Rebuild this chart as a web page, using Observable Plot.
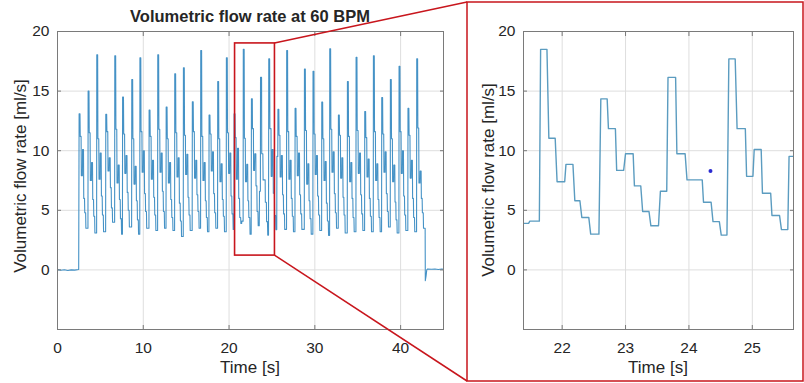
<!DOCTYPE html>
<html><head><meta charset="utf-8">
<script src="https://cdn.jsdelivr.net/npm/d3@7"></script>
<script src="https://cdn.jsdelivr.net/npm/@observablehq/plot@0.6"></script>
<style>
body{margin:0;background:#fff;}
#wrap{position:relative;width:804px;height:383px;overflow:hidden;font-family:"Liberation Sans",Arial,sans-serif;}
#left,#right{position:absolute;top:0;}
#left{left:0}
#right{left:460px}
#overlay{position:absolute;left:0;top:0;pointer-events:none}
</style></head><body>
<div id="wrap"><div id="left"></div><div id="right"></div><svg id="overlay" width="804" height="383"></svg></div>
<script>
// ---------- data ----------
// resting baseline before pumping starts
const baseTime = [0, 0.4, 0.8, 1.2, 1.6, 2.0, 2.47];
const baseFlow = [0.02, -0.03, 0.01, -0.05, 0.0, -0.02, 0.03];

// beats outside the zoomed window (onset time, plateau levels)
const beatOnset = [2.50,3.55,4.56,5.61,6.66,7.57,8.64,9.59,10.66,11.67,12.65,13.65,14.66,15.70,16.68,17.65,18.66,19.67,20.57,
                   25.68,26.70,27.68,28.77,29.77,30.79,31.72,32.73,33.78,34.79,35.80,36.81,37.78,38.79,39.80,40.84,41.86];
const beatPeak = [13.1,15.0,18.05,13.05,17.97,14.5,15.97,17.8,13.4,18.05,13.67,16.45,16.95,14.1,18.4,13.0,15.8,17.8,13.1,
                  13.47,18.4,13.55,16.86,16.67,14.08,18.55,13.0,15.8,17.83,13.28,17.97,14.45,15.97,17.08,13.55,17.72];
const beatShoulder = [11.2,11.5,11.0,11.6,11.8,11.4,11.0,11.6,11.2,11.8,11.0,11.5,11.3,11.6,11.2,11.4,11.0,11.5,11.1,
                      11.3,11.6,11.2,11.7,11.4,11.0,11.8,11.3,11.2,11.7,11.1,11.6,11.4,11.0,11.6,11.3,11.9];
const beatDip = [7.9,7.5,7.6,8.3,7.3,8.1,7.2,8.2,7.6,8.2,7.3,7.8,8.0,7.7,7.5,8.3,7.4,8.1,7.6,
                 7.8,7.6,7.9,7.2,8.0,7.5,8.2,7.7,7.4,8.1,7.8,7.5,8.2,7.4,8.1,7.7,7.3];
const beatSecond = [10.1,9.0,9.8,9.4,8.8,9.6,8.7,10.0,9.2,9.8,9.0,9.4,9.7,9.2,9.0,9.9,8.9,9.8,10.2,
                    9.6,9.2,9.8,8.9,9.6,9.1,9.9,9.4,9.0,9.8,9.3,8.9,9.9,8.8,10.0,9.2,8.3];
const beatStep1 = [6.0,5.9,6.2,6.9,5.9,6.5,5.8,6.4,6.1,6.6,5.9,5.6,6.1,6.3,5.8,6.4,5.9,6.2,6.0,
                   6.3,6.0,6.3,5.8,6.2,5.6,6.4,6.1,6.0,6.3,6.0,5.9,6.4,5.7,6.2,6.0,6.0];
const beatStep2 = [4.8,4.5,4.6,5.2,4.3,5.0,4.2,4.9,4.6,4.9,4.4,4.1,4.6,4.9,4.4,4.8,4.5,4.7,4.4,
                   4.7,4.5,4.7,4.3,4.6,4.1,4.8,4.6,4.4,4.7,4.5,4.4,4.9,4.2,4.6,4.4,4.8];
const beatMin = [3.5,3.1,3.2,4.0,3.0,3.6,3.0,3.5,3.3,3.5,3.3,2.8,3.3,3.5,3.2,3.5,3.2,3.4,3.9,
                 3.4,3.2,3.4,3.0,3.3,2.9,3.5,3.1,3.2,3.3,3.2,3.2,3.6,3.1,3.3,3.2,3.5];
// plateau start / end (s after onset), as measured on the zoomed panel
const plateauStart = [0.02, 0.15, 0.28, 0.42, 0.56, 0.68, 0.81];
const plateauEnd   = [0.12, 0.25, 0.40, 0.53, 0.65, 0.78];

// zoomed window, read point by point
const zoomTime = [21.40,21.47,21.49,21.64,21.66,21.76,21.79,21.89,21.92,22.04,22.06,22.17,22.20,22.28,22.31,22.42,22.45,22.58,
  22.61,22.71,22.73,22.84,22.86,22.97,23.00,23.12,23.14,23.24,23.27,23.37,23.40,23.52,23.55,23.65,
  23.67,23.79,23.81,23.94,23.97,24.21,24.23,24.35,24.38,24.48,24.51,24.60,
  24.63,24.73,24.76,24.89,24.91,25.01,25.03,25.14,25.16,25.29,25.31,25.43,25.46,25.56,25.58,25.68];
const zoomFlow = [3.9,3.9,4.09,4.09,18.5,18.5,11.05,11.05,7.4,7.4,8.85,8.85,5.8,5.8,4.4,4.4,3.0,3.0,
  14.35,14.35,11.85,11.85,8.35,8.35,9.75,9.75,7.05,7.05,4.9,4.9,3.7,3.7,6.6,6.6,
  16.15,16.15,9.75,9.75,7.55,7.55,5.68,5.68,4.05,4.05,2.92,2.92,
  17.7,17.7,11.85,11.85,7.85,7.85,10.1,10.1,6.43,6.43,4.56,4.56,3.38,3.38,9.52,9.52];

// pump stop
const endTime = [42.88,42.97,43.05,43.15,43.6,44.0,44.4,44.8,45.0];
const endFlow = [-0.9,-0.5,0.0,0.08,0.05,0.08,0.03,0.07,0.05];

// single marker in the zoomed panel
const markerTime = [24.34];
const markerFlow = [8.3];

// axes
const xTicksFull = [0,10,20,30,40];
const xTicksZoom = [22,23,24,25];
const yTicks = [0,5,10,15,20];
const fullDomain = [0,45];
const zoomDomain = [21.39,25.65];
const flowDomain = [-5,20];
// zoom box drawn on the overview
const zoomBoxTime = [20.7,25.35];
const zoomBoxFlow = [1.2,19.0];

// ---------- build series ----------
const series = [];
baseTime.forEach((t,i)=>series.push({t, f: baseFlow[i]}));
function addBeat(i, nextT){
  const o = beatOnset[i];
  const lv = [beatPeak[i], beatShoulder[i], beatDip[i], beatSecond[i], beatStep1[i], beatStep2[i], beatMin[i]];
  lv.forEach((v,k)=>{
    series.push({t: o+plateauStart[k], f: v});
    series.push({t: k<plateauEnd.length ? o+plateauEnd[k] : nextT, f: v});
  });
}
const nZoomBefore = 19;
for(let i=0;i<nZoomBefore;i++) addBeat(i, i===nZoomBefore-1 ? zoomTime[0] : beatOnset[i+1]);
zoomTime.forEach((t,i)=>series.push({t, f: zoomFlow[i]}));
for(let i=nZoomBefore;i<beatOnset.length;i++) addBeat(i, i===beatOnset.length-1 ? endTime[0]-0.02 : beatOnset[i+1]);
endTime.forEach((t,i)=>series.push({t, f: endFlow[i]}));
const markers = markerTime.map((t,i)=>({t, f: markerFlow[i]}));
const zoomBox = [{t1: zoomBoxTime[0], t2: zoomBoxTime[1], f1: zoomBoxFlow[0], f2: zoomBoxFlow[1]}];

const RED = "#c8161d";
const AX = "#7a7a7a";
const FONT = "Liberation Sans, Arial, sans-serif";

function axes(xt){
  return [
    Plot.gridX(xt, {stroke:"#dedede", strokeOpacity:1}),
    Plot.gridY(yTicks, {stroke:"#dedede", strokeOpacity:1}),
  ];
}
function frameAxes(xt){
  return [
    Plot.frame({stroke: AX}),
    Plot.axisX(xt, {anchor:"bottom", tickSize:0, tickPadding:12, fontSize:15.5, label:null, fill:"#262626"}),
    Plot.axisX(xt, {anchor:"bottom", tickSize:-4, tickFormat:()=>"", label:null, stroke:AX}),
    Plot.axisX(xt, {anchor:"top", tickSize:-4, tickFormat:()=>"", label:null, stroke:AX}),
    Plot.axisY(yTicks, {anchor:"left", tickSize:0, tickPadding:8, fontSize:15.5, label:null, fill:"#262626"}),
    Plot.axisY(yTicks, {anchor:"left", tickSize:-4, tickFormat:()=>"", label:null, stroke:AX}),
    Plot.axisY(yTicks, {anchor:"right", tickSize:-4, tickFormat:()=>"", label:null, stroke:AX}),
  ];
}

const leftPlot = Plot.plot({
  width:460, height:383, marginTop:31, marginBottom:54, marginLeft:57, marginRight:17,
  style:{fontFamily:FONT, fontSize:"15px", color:"#262626", background:"transparent"},
  x:{domain:fullDomain}, y:{domain:flowDomain},
  marks:[
    ...axes(xTicksFull),
    Plot.line(series, {x:"t", y:"f", stroke:"#4592c6", strokeWidth:1.1}),
    Plot.rect(zoomBox, {x1:"t1", x2:"t2", y1:"f1", y2:"f2", fill:"none", stroke:RED, strokeWidth:1.6}),
    ...frameAxes(xTicksFull)
  ]
});
document.getElementById("left").appendChild(leftPlot);

const rightPlot = Plot.plot({
  width:344, height:383, marginTop:31, marginBottom:54, marginLeft:63, marginRight:11,
  style:{fontFamily:FONT, fontSize:"15px", color:"#262626", background:"transparent"},
  x:{domain:zoomDomain}, y:{domain:flowDomain},
  marks:[
    ...axes(xTicksZoom),
    Plot.line(series, {x:"t", y:"f", stroke:"#5b9cc0", strokeWidth:1.4, clip:true}),
    Plot.dot(markers, {x:"t", y:"f", r:2, fill:"#2a2ad0", stroke:"none"}),
    ...frameAxes(xTicksZoom)
  ]
});
document.getElementById("right").appendChild(rightPlot);

// ---------- overlay: titles, labels, zoom connectors ----------
const sx = leftPlot.scale("x"), sy = leftPlot.scale("y");
const bx = sx.apply(zoomBoxTime[1]);
const byTop = sy.apply(zoomBoxFlow[1]);
const byBot = sy.apply(zoomBoxFlow[0]);
const panelLeft = 460 + 7, panelTop = 2, panelRight = 803, panelBottom = 381;
const ov = d3.select("#overlay");
ov.append("rect").attr("x",panelLeft).attr("y",panelTop).attr("width",panelRight-panelLeft).attr("height",panelBottom-panelTop)
  .attr("fill","none").attr("stroke",RED).attr("stroke-width",1.5);
ov.append("line").attr("x1",bx).attr("y1",byTop).attr("x2",panelLeft).attr("y2",panelTop).attr("stroke",RED).attr("stroke-width",1.5);
ov.append("line").attr("x1",bx).attr("y1",byBot).attr("x2",panelLeft).attr("y2",panelBottom).attr("stroke",RED).attr("stroke-width",1.5);

const lx0 = 57, lx1 = 443, rx0 = 523, rx1 = 793;
function txt(x,y,s,opts={}){
  const t = ov.append("text").attr("x",x).attr("y",y).attr("text-anchor","middle")
    .attr("font-family",FONT).attr("font-size",opts.size||17).attr("fill","#262626").text(s);
  if(opts.bold) t.attr("font-weight","bold");
  if(opts.rot) t.attr("transform",`rotate(-90 ${x} ${y})`);
  return t;
}
txt((lx0+lx1)/2, 22, "Volumetric flow rate at 60 BPM", {size:16.5, bold:true});
txt((lx0+lx1)/2, 373, "Time [s]");
txt((rx0+rx1)/2, 373, "Time [s]");
txt(26, 176, "Volumetric flow rate [ml/s]", {rot:true});
txt(494, 180, "Volumetric flow rate [ml/s]", {rot:true});
</script></body></html>
